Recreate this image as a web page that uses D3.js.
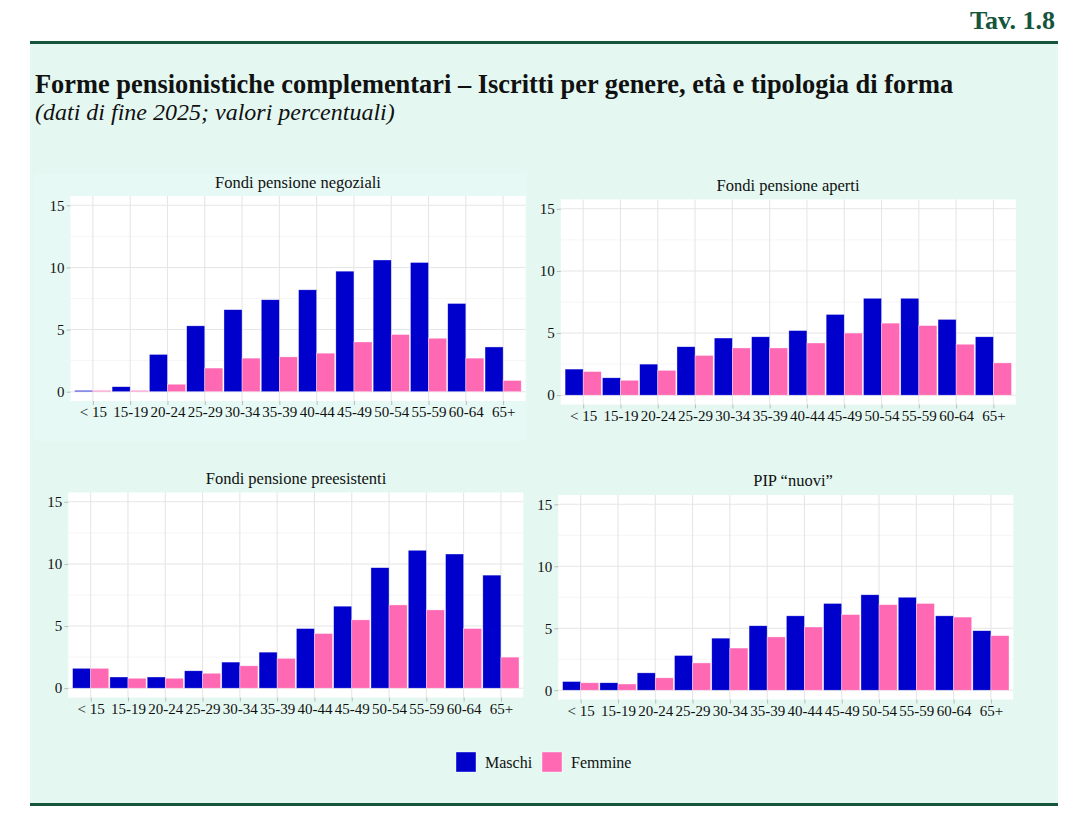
<!DOCTYPE html>
<html>
<head>
<meta charset="utf-8">
<script src="https://cdn.jsdelivr.net/npm/d3@7"></script>
<style>
  body { margin: 0; background: #fff; }
  text { font-family: "Liberation Serif", "Times New Roman", serif; fill: #111; }
</style>
</head>
<body>
<script>
// Iscritti per genere, eta e tipologia di forma (valori percentuali)

var ageGroups = ["< 15", "15-19", "20-24", "25-29", "30-34", "35-39",
                 "40-44", "45-49", "50-54", "55-59", "60-64", "65+"];

var yTicks = [0, 5, 10, 15];
var yMinorTicks = [2.5, 7.5, 12.5];

// Fondi pensione negoziali
var negozialiMaschi  = [0.1, 0.4, 3.0, 5.3, 6.6, 7.4, 8.2, 9.7, 10.6, 10.4, 7.1, 3.6];
var negozialiFemmine = [0.1, 0.1, 0.6, 1.9, 2.7, 2.8, 3.1, 4.0, 4.6, 4.3, 2.7, 0.9];

// Fondi pensione aperti
var apertiMaschi  = [2.1, 1.4, 2.5, 3.9, 4.6, 4.7, 5.2, 6.5, 7.8, 7.8, 6.1, 4.7];
var apertiFemmine = [1.9, 1.2, 2.0, 3.2, 3.8, 3.8, 4.2, 5.0, 5.8, 5.6, 4.1, 2.6];

// Fondi pensione preesistenti
var preesistentiMaschi  = [1.6, 0.9, 0.9, 1.4, 2.1, 2.9, 4.8, 6.6, 9.7, 11.1, 10.8, 9.1];
var preesistentiFemmine = [1.6, 0.8, 0.8, 1.2, 1.8, 2.4, 4.4, 5.5, 6.7, 6.3, 4.8, 2.5];

// PIP "nuovi"
var pipMaschi  = [0.7, 0.6, 1.4, 2.8, 4.2, 5.2, 6.0, 7.0, 7.7, 7.5, 6.0, 4.8];
var pipFemmine = [0.6, 0.5, 1.0, 2.2, 3.4, 4.3, 5.1, 6.1, 6.9, 7.0, 5.9, 4.4];

var seriesNames = ["Maschi", "Femmine"];
var colors = ["#0000cd", "#ff69b4"];

// ---------- layout

var w = 1088;
var h = 827;

var panels = [
  { title: "Fondi pensione negoziali",    m: negozialiMaschi,    f: negozialiFemmine,
    x0: 70.5,  x1: 525.5,  top: 196,   bottom: 401,   tx: 298, ty: 188 },
  { title: "Fondi pensione aperti",       m: apertiMaschi,       f: apertiFemmine,
    x0: 560.8, x1: 1015.8, top: 199.5, bottom: 404.5, tx: 788, ty: 190.5 },
  { title: "Fondi pensione preesistenti", m: preesistentiMaschi, f: preesistentiFemmine,
    x0: 68.3,  x1: 523.3,  top: 492.5, bottom: 697.5, tx: 296, ty: 483.5 },
  { title: "PIP \u201cnuovi\u201d",       m: pipMaschi,          f: pipFemmine,
    x0: 558.3, x1: 1013.3, top: 495,   bottom: 699.5, tx: 793, ty: 485.5 }
];

var svg = d3.select("body")
    .append("svg")
    .attr("width", w)
    .attr("height", h);

// header
svg.append("text")
    .attr("x", 1055)
    .attr("y", 29)
    .attr("text-anchor", "end")
    .style("font-size", "26px")
    .style("font-weight", "bold")
    .style("fill", "#14553c")
    .text("Tav. 1.8");

// mint background + green rules
svg.append("rect")
    .attr("x", 30).attr("y", 44)
    .attr("width", 1028).attr("height", 759)
    .attr("fill", "#e4f8f1");

svg.append("rect")
    .attr("x", 30).attr("y", 41)
    .attr("width", 1028).attr("height", 3)
    .attr("fill", "#14553c");

svg.append("rect")
    .attr("x", 30).attr("y", 803)
    .attr("width", 1028).attr("height", 3)
    .attr("fill", "#14553c");

// faint box of the first chart image
svg.append("rect")
    .attr("x", 34).attr("y", 173)
    .attr("width", 493).attr("height", 268)
    .attr("fill", "#e7f9f4");

svg.append("text")
    .attr("x", 35)
    .attr("y", 93)
    .style("font-size", "26.4px")
    .style("font-weight", "bold")
    .text("Forme pensionistiche complementari \u2013 Iscritti per genere, et\u00e0 e tipologia di forma");

svg.append("text")
    .attr("x", 35)
    .attr("y", 120)
    .style("font-size", "24px")
    .style("font-style", "italic")
    .text("(dati di fine 2025; valori percentuali)");

// ---------- panels

panels.forEach(function(p) {
  var g = svg.append("g");

  var xScale = d3.scalePoint()
      .domain(ageGroups)
      .range([p.x0, p.x1])
      .padding(0.6);            // ggplot discrete expansion

  var step = xScale.step();
  var barW = step * 0.485;

  var yScale = d3.scaleLinear()
      .domain([-0.75, 15.75])   // 0-15 with 5% expansion
      .range([p.bottom, p.top]);

  // panel background
  g.append("rect")
      .attr("x", p.x0).attr("y", p.top)
      .attr("width", p.x1 - p.x0).attr("height", p.bottom - p.top)
      .attr("fill", "#fff");

  // grid
  g.selectAll(".minor")
      .data(yMinorTicks)
      .enter()
      .append("line")
      .attr("x1", p.x0).attr("x2", p.x1)
      .attr("y1", function(d) { return yScale(d); })
      .attr("y2", function(d) { return yScale(d); })
      .attr("stroke", "#f2f2f2")
      .attr("stroke-width", 0.8);

  g.selectAll(".major")
      .data(yTicks)
      .enter()
      .append("line")
      .attr("x1", p.x0).attr("x2", p.x1)
      .attr("y1", function(d) { return yScale(d); })
      .attr("y2", function(d) { return yScale(d); })
      .attr("stroke", "#e6e6e6")
      .attr("stroke-width", 1.1);

  g.selectAll(".vgrid")
      .data(ageGroups)
      .enter()
      .append("line")
      .attr("x1", function(d) { return xScale(d); })
      .attr("x2", function(d) { return xScale(d); })
      .attr("y1", p.top).attr("y2", p.bottom)
      .attr("stroke", "#e6e6e6")
      .attr("stroke-width", 1.1);

  // bars: maschi left, femmine right
  [p.m, p.f].forEach(function(vals, s) {
    g.selectAll(".bar" + s)
        .data(vals)
        .enter()
        .append("rect")
        .attr("x", function(d, i) { return xScale(ageGroups[i]) - barW + s * barW; })
        .attr("y", function(d) { return yScale(d); })
        .attr("width", barW)
        .attr("height", function(d) { return yScale(0) - yScale(d); })
        .attr("fill", colors[s])
        .attr("stroke", "#fff")
        .attr("stroke-opacity", 0.6)
        .attr("stroke-width", 0.6);
  });

  // axes
  var yAxis = g.append("g")
      .attr("transform", "translate(" + p.x0 + ",0)")
      .call(d3.axisLeft(yScale).tickValues(yTicks).tickSize(4).tickPadding(2));

  var xAxis = g.append("g")
      .attr("transform", "translate(0," + p.bottom + ")")
      .call(d3.axisBottom(xScale).tickSize(4).tickPadding(1.5));

  [yAxis, xAxis].forEach(function(ax) {
    ax.select(".domain").remove();
    ax.selectAll("line").attr("stroke", "#bbb");
    ax.selectAll("text")
        .style("font-size", "15px")
        .style("font-family", "'Liberation Serif', 'Times New Roman', serif")
        .attr("fill", "#111");
  });

  g.append("text")
      .attr("x", p.tx)
      .attr("y", p.ty)
      .attr("text-anchor", "middle")
      .style("font-size", "16.5px")
      .text(p.title);
});

// ---------- legend
var legend = svg.selectAll(".legend")
    .data(seriesNames)
    .enter()
    .append("g")
    .attr("transform", function(d, i) { return "translate(" + [456, 542][i] + ",752)"; });

legend.append("rect")
    .attr("width", 20)
    .attr("height", 20)
    .attr("fill", function(d, i) { return colors[i]; })
    .attr("stroke", "#fff")
    .attr("stroke-opacity", 0.5)
    .attr("stroke-width", 0.8);

legend.append("text")
    .attr("x", 29)
    .attr("y", 15.5)
    .style("font-size", "16px")
    .text(function(d) { return d; });
</script>
</body>
</html>
